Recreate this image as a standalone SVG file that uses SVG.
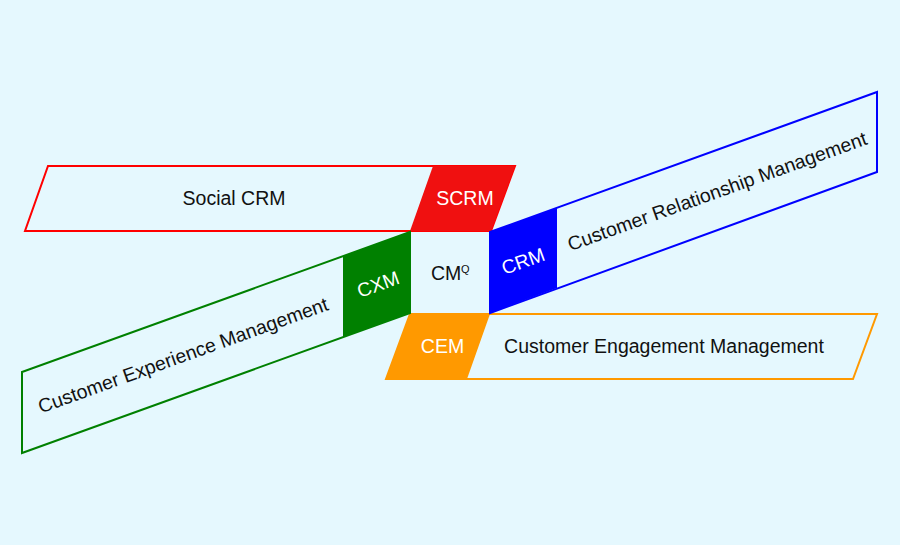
<svg xmlns="http://www.w3.org/2000/svg" width="900" height="545" viewBox="0 0 900 545">
<style>
.t{font-family:"Liberation Sans",Arial,sans-serif;font-size:19.5px;fill:#111;text-anchor:middle}
.w{fill:#fff}
.band{fill:none;stroke-width:2}
</style>
<rect width="900" height="545" fill="#e5f8fe"/>
<g id="scrm">
<path d="M48,166 L515,166 L491,231 L25,231 Z" class="band" stroke="#f00"/>
<path d="M433,166 L515,166 L491,231 L410,231 Z" fill="#f01010"/>
<text class="t" x="234" y="205">Social CRM</text>
<text class="t w" x="465" y="205">SCRM</text>
</g>
<g id="cem">
<path d="M410,314 L877,314 L853,379 L386,379 Z" class="band" stroke="#ff9900"/>
<path d="M410,314 L490,314 L467,379 L386,379 Z" fill="#ff9900"/>
<text class="t" x="664" y="352.5">Customer Engagement Management</text>
<text class="t w" x="442.5" y="353">CEM</text>
</g>
<g id="cxm">
<path d="M22,372 L410,232 L410,313 L22,453 Z" class="band" stroke="#008000"/>
<path d="M343,256 L410,232 L410,313 L343,337 Z" fill="#008000"/>
<g transform="translate(183,355) rotate(-19.8)"><text class="t" x="0" y="7">Customer Experience Management</text></g>
<g transform="translate(378,284) rotate(-19.8)"><text class="t w" x="0" y="7">CXM</text></g>
</g>
<g id="crm">
<path d="M490,232 L877,92 L877,172 L490,313 Z" class="band" stroke="#0000ff"/>
<path d="M490,232 L557,208 L557,288 L490,313 Z" fill="#0000ff"/>
<g transform="translate(717,191) rotate(-19.8)"><text class="t" x="0" y="7">Customer Relationship Management</text></g>
<g transform="translate(523,261) rotate(-19.8)"><text class="t w" x="0" y="7">CRM</text></g>
</g>
<g id="cmq">
<text class="t" x="431" y="280" style="text-anchor:start">CM</text>
<text class="t" x="461" y="273" style="text-anchor:start;font-size:11px">Q</text>
</g>
<g id="connectors"/>
</svg>
